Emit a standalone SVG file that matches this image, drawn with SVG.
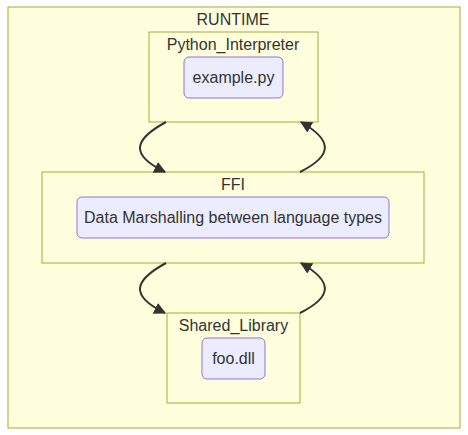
<svg xmlns="http://www.w3.org/2000/svg" width="468" height="435" viewBox="0 0 468 435">
<style>
.cluster{fill:#ffffde;stroke:#aaaa33;stroke-width:1}
.node{fill:#ECECFF;stroke:#9370DB;stroke-width:1}
text{font-family:"Liberation Sans",Arial,sans-serif;font-size:16px;fill:#333;text-anchor:middle}
.edge{fill:none;stroke:#333;stroke-width:2}
</style>
<defs>
<marker id="arrow" viewBox="0 0 10 10" refX="9" refY="5" markerUnits="userSpaceOnUse" markerWidth="12" markerHeight="12" orient="auto">
<path d="M0,0 L10,5 L0,10 z" fill="#333"/>
</marker>
</defs>
<rect width="468" height="435" fill="#ffffff"/>
<g id="RUNTIME">
<rect class="cluster" x="8" y="7" width="452" height="421"/>
<text x="233" y="25">RUNTIME</text>
</g>
<g id="Python_Interpreter">
<rect class="cluster" x="149" y="32" width="169" height="90"/>
<text x="233" y="50">Python_Interpreter</text>
</g>
<g id="example_py">
<rect class="node" x="184" y="57" width="99" height="41" rx="5" ry="5"/>
<text x="233.5" y="83">example.py</text>
</g>
<g id="FFI">
<rect class="cluster" x="42" y="172" width="382" height="91"/>
<text x="233" y="190">FFI</text>
</g>
<g id="Data_Marshalling">
<rect class="node" x="77" y="197" width="312" height="41" rx="5" ry="5"/>
<text x="233" y="223">Data Marshalling between language types</text>
</g>
<g id="Shared_Library">
<rect class="cluster" x="167" y="313" width="133" height="90"/>
<text x="233.5" y="331">Shared_Library</text>
</g>
<g id="foo_dll">
<rect class="node" x="202" y="338" width="63" height="41" rx="5" ry="5"/>
<text x="233.5" y="364">foo.dll</text>
</g>
<g id="connectors">
<path class="edge" d="M166,122 C133,140 130,155 165,172" marker-end="url(#arrow)"/>
<path class="edge" d="M300,172 C334,155 332,140 301,122" marker-end="url(#arrow)"/>
<path class="edge" d="M166,263 C133,281 130,296 165,313" marker-end="url(#arrow)"/>
<path class="edge" d="M300,313 C334,296 332,281 301,263" marker-end="url(#arrow)"/>
</g>
</svg>
